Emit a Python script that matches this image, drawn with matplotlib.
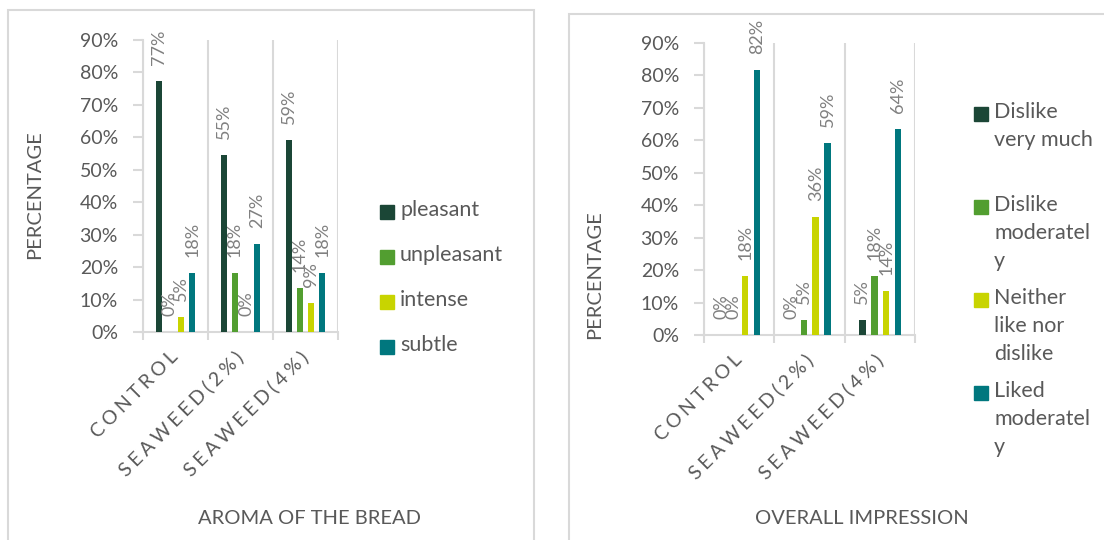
import matplotlib
matplotlib.use("Agg")
import matplotlib.pyplot as plt
from matplotlib.patches import Rectangle

plt.rcParams['font.family'] = ['Lato', 'DejaVu Sans']

# ---- data -------------------------------------------------------------
categories = ["CONTROL", "SEAWEED(2%)", "SEAWEED(4%)"]

aroma_series = ["pleasant", "unpleasant", "intense", "subtle"]
aroma_pleasant = [77.27, 54.55, 59.09]
aroma_unpleasant = [0.0, 18.18, 13.64]
aroma_intense = [4.55, 0.0, 9.09]
aroma_subtle = [18.18, 27.27, 18.18]

overall_series = ["Dislike\nvery much", "Dislike\nmoderatel\ny",
                  "Neither\nlike nor\ndislike", "Liked\nmoderatel\ny"]
overall_dislike_much = [0.0, 0.0, 4.55]
overall_dislike_mod = [0.0, 4.55, 18.18]
overall_neither = [18.18, 36.36, 13.64]
overall_liked_mod = [81.82, 59.09, 63.64]

y_ticks = [0, 10, 20, 30, 40, 50, 60, 70, 80, 90]

colors = ["#1b4636", "#529e30", "#c8d400", "#00777e"]
GRID = "#d9d9d9"
TXT = "#595959"
LBL = "#808080"

W, H = 1104, 540
fig = plt.figure(figsize=(W / 100, H / 100), dpi=100)


def px(x, y):
    """pixel (from top-left) -> figure fraction"""
    return x / W, 1 - y / H


def spaced(s):
    # wide letter spacing for the category labels
    return "\u2009\u200a".join(s)


def draw_panel(rect, series, data, ylabel_xy, xtitle, xtitle_xy,
               legend_x, legend_ys):
    ax = fig.add_axes(rect)
    n = len(series)
    pitch, width = 0.17, 0.092
    for i, (name, vals) in enumerate(zip(series, data)):
        xs = [c + 0.5 + (i - (n - 1) / 2) * pitch for c in range(len(categories))]
        ax.bar(xs, vals, width=width, color=colors[i], zorder=3)
        for x, v in zip(xs, vals):
            ax.annotate(f"{v:.0f}%", (x, v), xytext=(0, 11.5),
                        textcoords="offset points", rotation=90,
                        ha="center", va="bottom", fontsize=13,
                        color=LBL, zorder=4, annotation_clip=False)
    ax.set_xlim(0, len(categories))
    ax.set_ylim(0, 90)
    ax.set_yticks(y_ticks)
    ax.set_yticklabels([f"{t}%" for t in y_ticks], fontsize=14, color=TXT)
    ax.tick_params(axis="y", length=7, width=1.5, color=GRID, pad=11)
    ax.set_xticks(range(len(categories) + 1))
    ax.set_xticklabels([])
    ax.tick_params(axis="x", which="major", length=6, width=1.5, color=GRID)
    ax.set_xticks([c + 0.5 for c in range(len(categories))], minor=True)
    ax.set_xticklabels([spaced(c) for c in categories], minor=True,
                       rotation=45, ha="right", va="center",
                       rotation_mode="anchor", fontsize=14, color=TXT)
    ax.tick_params(axis="x", which="minor", length=0, pad=16)
    ax.grid(axis="x", which="major", color=GRID, linewidth=1.5, zorder=0)
    for s in ("top", "right"):
        ax.spines[s].set_visible(False)
    for s in ("left", "bottom"):
        ax.spines[s].set_color(GRID)
        ax.spines[s].set_linewidth(1.5)
    ax.spines["bottom"].set_bounds(-0.035, len(categories))

    fx, fy = px(*ylabel_xy)
    fig.text(fx, fy, "PERCENTAGE", rotation=90, ha="center", va="center",
             fontsize=14.5, color=TXT)
    fx, fy = px(*xtitle_xy)
    fig.text(fx, fy, xtitle, ha="center", va="center", fontsize=14.5, color=TXT)

    # legend entries
    sq = 14
    for i, (name, yc) in enumerate(zip(series, legend_ys)):
        x0, y0 = px(legend_x, yc + sq / 2)
        fig.patches.append(Rectangle((x0, y0), sq / W, sq / H,
                                     transform=fig.transFigure,
                                     color=colors[i], zorder=5))
        tx, ty = px(legend_x + sq + 6, yc - 12)
        fig.text(tx, ty, name, ha="left", va="top", fontsize=15.5,
                 color=TXT, linespacing=1.5)
    return ax


# panel borders
for (x0, y0, x1) in [(8, 10, 534), (569, 14, 1110)]:
    fx0, fy0 = px(x0, y0)
    fx1, _ = px(x1, y0)
    fig.patches.append(Rectangle((fx0, -0.05), fx1 - fx0, fy0 + 0.05,
                                 transform=fig.transFigure, fill=False,
                                 edgecolor=GRID, linewidth=1.5))

aroma_data = [aroma_pleasant, aroma_unpleasant, aroma_intense, aroma_subtle]
l, t = px(143, 40)
_, b = px(143, 332)
draw_panel([l, b, 195 / W, t - b], aroma_series, aroma_data,
           (35, 195), "AROMA OF THE BREAD", (310, 519),
           380, [212, 257, 302, 347])

overall_data = [overall_dislike_much, overall_dislike_mod, overall_neither,
                overall_liked_mod]
l, t = px(704, 43)
_, b = px(704, 335)
draw_panel([l, b, 211.5 / W, t - b], overall_series, overall_data,
           (595, 275), "OVERALL IMPRESSION", (862, 518),
           974, [114, 207, 300, 393])

fig.savefig("out.png", dpi=100)
